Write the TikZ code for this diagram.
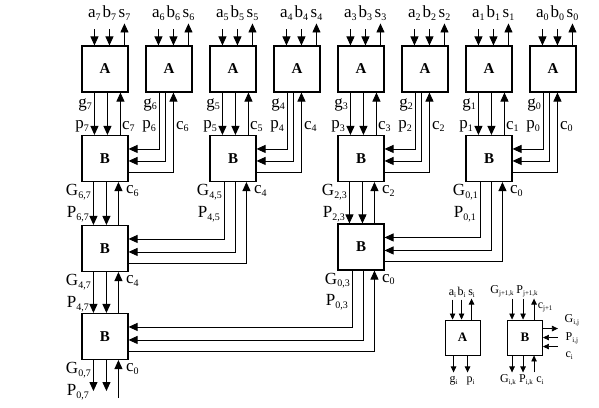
\documentclass[tikz,border=0pt]{standalone}
\usepackage{fontspec}
\setmainfont{Liberation Serif}
\usetikzlibrary{arrows.meta,calc}
\newcommand{\ix}[2]{#1\raisebox{-0.35ex}{\fontsize{10}{10}\selectfont #2}}
\newcommand{\lx}[2]{#1\raisebox{-0.3ex}{\fontsize{7}{7}\selectfont #2}}

\begin{document}
\begin{tikzpicture}[x=1pt,y=-1pt,
  blk/.style={draw,line width=1.1pt,minimum width=46pt,minimum height=46pt,inner sep=0pt,font=\fontsize{15}{15}\selectfont\bfseries},
  sblk/.style={blk,minimum width=35pt,minimum height=35pt,line width=0.9pt,font=\fontsize{13}{13}\selectfont\bfseries},
  wire/.style={line width=0.9pt,-{Triangle[length=9pt,width=8pt]}},
  swire/.style={line width=0.7pt,-{Triangle[length=6pt,width=5.5pt]}},
  lbl/.style={inner sep=0.5pt,font=\fontsize{17}{17}\selectfont},
  slbl/.style={inner sep=0.5pt,font=\fontsize{12}{12}\selectfont}]
\useasboundingbox (0,0) rectangle (599,407);
% ===== cells A (top row) with a, b in and s out =====
\foreach \i in {0,...,7}{
  \node[blk] (A\i) at ({105+64*(7-\i)},69) {A};
  \node[lbl,anchor=base] (a\i) at ($(A\i.north west)+(13,-28)$) {\ix{a}{\i}};
  \node[lbl,anchor=base] (b\i) at ($(A\i.north west)+(28,-28)$) {\ix{b}{\i}};
  \node[lbl,anchor=base] (s\i) at ($(A\i.north west)+(43,-28)$) {\ix{s}{\i}};
  \draw[wire] ([yshift=-12pt]a\i.base) -- (a\i.base |- A\i.north);
  \draw[wire] ([yshift=-12pt]b\i.base) -- (b\i.base |- A\i.north);
  \draw[wire] (s\i.base |- A\i.north) -- ([yshift=-6pt]s\i.base);}
% ===== cells B =====
\node[blk] (B67) at (105,158.5) {B};
\node[blk] (B45) at (233,158.5) {B};
\node[blk] (B23) at (361,158.5) {B};
\node[blk] (B01) at (489,158.5) {B};
\node[blk] (B47) at (105,248.5) {B};
\node[blk] (B03) at (361,247) {B};
\node[blk] (B07) at (105,336.5) {B};
% A straight down into B
\foreach \a/\b in {7/67,5/45,3/23,1/01}{
  \draw[wire] ([xshift=13pt]A\a.south west) -- ([xshift=13pt]B\b.north west);
  \draw[wire] ([xshift=26pt]A\a.south west) -- ([xshift=26pt]B\b.north west);
  \draw[wire] ([xshift=39pt]B\b.north west) -- ([xshift=39pt]A\a.south west);
  \node[lbl,anchor=east] (g\a) at ($(A\a.south west)+(11,12)$) {\ix{g}{\a}};
  \node[lbl,anchor=east] (p\a) at ($(A\a.south west)+(8,34)$) {\ix{p}{\a}};
  \node[lbl,anchor=west] (c\a) at ($(A\a.south west)+(40,34)$) {\ix{c}{\a}};}
% A round into the right side of B
\foreach \a/\b in {6/67,4/45,2/23,0/01}{
  \draw[wire] ([xshift=14pt]A\a.south west) |- ([yshift=-14pt]B\b.north east);
  \draw[wire] ([xshift=20pt]A\a.south west) |- ([yshift=-26pt]B\b.north east);
  \draw[wire] ([yshift=-37pt]B\b.north east) -| ([xshift=28pt]A\a.south west);
  \node[lbl,anchor=east] (g\a) at ($(A\a.south west)+(12,12)$) {\ix{g}{\a}};
  \node[lbl,anchor=east] (p\a) at ($(A\a.south west)+(11,34)$) {\ix{p}{\a}};
  \node[lbl,anchor=west] (c\a) at ($(A\a.south west)+(30,34)$) {\ix{c}{\a}};}
% B straight down into B
\foreach \u/\d in {67/47,23/03,47/07}{
  \draw[wire] ([xshift=12pt]B\u.south west) -- ([xshift=12pt]B\d.north west);
  \draw[wire] ([xshift=25pt]B\u.south west) -- ([xshift=25pt]B\d.north west);
  \draw[wire] ([xshift=37pt]B\d.north west) -- ([xshift=37pt]B\u.south west);}
% B round into the right side of B
\foreach \u/\d in {45/47,01/03,03/07}{
  \draw[wire] ([xshift=15pt]B\u.south west) |- ([yshift=-14pt]B\d.north east);
  \draw[wire] ([xshift=26pt]B\u.south west) |- ([yshift=-27pt]B\d.north east);
  \draw[wire] ([yshift=-38pt]B\d.north east) -| ([xshift=37pt]B\u.south west);}
% outputs of the last B
\coordinate (G07o) at ($(B07.south west)+(12,31)$);
\coordinate (P07o) at ($(B07.south west)+(25,31)$);
\coordinate (c07i) at ($(B07.south west)+(37,38)$);
\draw[wire] (G07o |- B07.south) -- (G07o);
\draw[wire] (P07o |- B07.south) -- (P07o);
\draw[wire] (c07i) -- (c07i |- B07.south);
% labels under the B cells
\foreach \n/\s/\c/\gx in {67/{6,7}/6/10,45/{4,5}/4/13,23/{2,3}/2/10,01/{0,1}/0/13,
    47/{4,7}/4/10,03/{0,3}/0/13,07/{0,7}/0/10}{
  \node[lbl,anchor=east] (G\n) at ($(B\n.south west)+(\gx,10)$) {\ix{G}{\s}};
  \node[lbl,anchor=east] (P\n) at ($(B\n.south west)+(\gx-2,32)$) {\ix{P}{\s}};
  \node[lbl,anchor=west] (c\n) at ($(B\n.south west)+(44,9)$) {\ix{c}{\c}};}
% ===== legend =====
\node[sblk] (LA) at (462.5,337.5) {A};
\node[slbl,anchor=base] (la) at ($(LA.north west)+(8,-24)$) {\lx{a}{i}};
\node[slbl,anchor=base] (lb) at ($(LA.north west)+(17,-24)$) {\lx{b}{i}};
\node[slbl,anchor=base] (ls) at ($(LA.north west)+(27,-24)$) {\lx{s}{i}};
\draw[swire] ([yshift=-4pt]la.base) -- (la.base |- LA.north);
\draw[swire] ([yshift=-4pt]lb.base) -- (lb.base |- LA.north);
\draw[swire] (ls.base |- LA.north) -- ([yshift=-3pt]ls.base);
\coordinate (lgo) at ($(LA.south west)+(9,17)$);
\coordinate (lpo) at ($(LA.south west)+(23,17)$);
\draw[swire] (lgo |- LA.south) -- (lgo);
\draw[swire] (lpo |- LA.south) -- (lpo);
\node[slbl,anchor=base] (lg) at ($(LA.south west)+(9,27)$) {\lx{g}{i}};
\node[slbl,anchor=base] (lp) at ($(LA.south west)+(26,27)$) {\lx{p}{i}};
\node[sblk] (LB) at (525,337.5) {B};
\coordinate (lGi) at ($(LB.north west)+(5,-21)$);
\coordinate (lPi) at ($(LB.north west)+(16,-21)$);
\coordinate (lco) at ($(LB.north west)+(27,-21)$);
\draw[swire] (lGi) -- (lGi |- LB.north);
\draw[swire] (lPi) -- (lPi |- LB.north);
\draw[swire] (lco |- LB.north) -- (lco);
\node[slbl,anchor=base] (lGt) at ($(LB.north west)+(-5,-26)$) {\lx{G}{j+1,k}};
\node[slbl,anchor=base] (lPt) at ($(LB.north west)+(20,-26)$) {\lx{P}{j+1,k}};
\node[slbl,anchor=west] (lct) at ($(LB.north west)+(30,-12)$) {\lx{c}{j+1}};
\coordinate (lGr) at ($(LB.north east)+(15,9)$);
\coordinate (lPr) at ($(LB.north east)+(15,18)$);
\coordinate (lcr) at ($(LB.north east)+(15,27)$);
\draw[swire] (LB.east |- lGr) -- (lGr);
\draw[swire] (lPr) -- (LB.east |- lPr);
\draw[swire] (lcr) -- (LB.east |- lcr);
\node[slbl,anchor=west] (lGrt) at ($(LB.north east)+(21,1)$) {\lx{G}{i,j}};
\node[slbl,anchor=west] (lPrt) at ($(LB.north east)+(22,19)$) {\lx{P}{i,j}};
\node[slbl,anchor=west] (lcrt) at ($(LB.north east)+(22,36)$) {\lx{c}{i}};
\coordinate (lGb) at ($(LB.south west)+(5,17)$);
\coordinate (lPb) at ($(LB.south west)+(16,17)$);
\coordinate (lcb) at ($(LB.south west)+(27,17)$);
\draw[swire] (lGb |- LB.south) -- (lGb);
\draw[swire] (lPb |- LB.south) -- (lPb);
\draw[swire] (lcb) -- (lcb |- LB.south);
\node[slbl,anchor=base] (lGbt) at ($(LB.south west)+(1,27)$) {\lx{G}{i,k}};
\node[slbl,anchor=base] (lPbt) at ($(LB.south west)+(19,27)$) {\lx{P}{i,k}};
\node[slbl,anchor=base] (lcbt) at ($(LB.south west)+(33,27)$) {\lx{c}{i}};
\end{tikzpicture}
\end{document}
